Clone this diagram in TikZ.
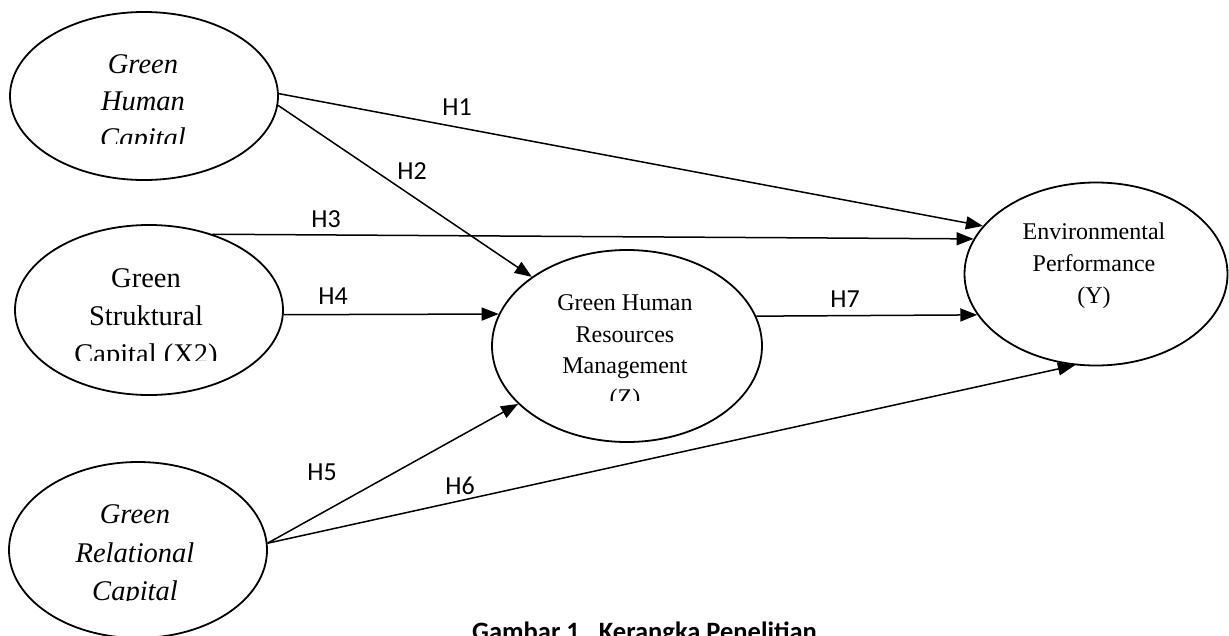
\documentclass[tikz,border=0pt]{standalone}
\usepackage{fontspec}
\setmainfont{Liberation Serif}
\newfontfamily\calibri{Carlito}
\usetikzlibrary{shapes.geometric,arrows.meta}
\begin{document}
\begin{tikzpicture}[x=1pt,y=-1pt,
  oval/.style={draw, line width=1.8pt, ellipse, inner sep=0pt},
  link/.style={line width=1.5pt, -{Triangle[length=17pt,width=13pt]}},
  bigit/.style={inner sep=0pt, anchor=base, font=\fontsize{28.5}{34}\selectfont\itshape},
  bigup/.style={inner sep=0pt, anchor=base, font=\fontsize{28.5}{34}\selectfont},
  midtxt/.style={inner sep=0pt, anchor=base, font=\fontsize{24}{29}\selectfont},
  hlab/.style={inner sep=0pt, font=\calibri\fontsize{26}{30}\selectfont},
  captxt/.style={inner sep=0pt, anchor=base west, font=\calibri\bfseries\fontsize{26.5}{30}\selectfont}
]
\clip (0,0) rectangle (1229,635);

% ellipses
\node[oval, minimum width=268pt, minimum height=168pt] (e1) at (144,96) {};
\node[oval, minimum width=268pt, minimum height=170pt] (e2) at (149,310) {};
\node[oval, minimum width=258pt, minimum height=176pt] (e3) at (138,550) {};
\node[oval, minimum width=270pt, minimum height=192pt] (e4) at (627,346) {};
\node[oval, minimum width=263pt, minimum height=183pt] (e5) at (1096,274) {};

% texts (clipped as in the reference)
\begin{scope}
  \clip (0,0) rectangle (300,143);
  \node[bigit] (t1a) at (143,73) {Green};
  \node[bigit] (t1b) at (143,110) {Human};
  \node[bigit] (t1c) at (143,147) {Capital};
\end{scope}
\begin{scope}
  \clip (0,240) rectangle (300,360);
  \node[bigup] (t2a) at (146,287) {Green};
  \node[bigup] (t2b) at (146,325) {Struktural};
  \node[bigup] (t2c) at (146,363) {Capital (X2)};
\end{scope}
\begin{scope}
  \clip (0,480) rectangle (300,600);
  \node[bigit] (t3a) at (135,523) {Green};
  \node[bigit] (t3b) at (135,562) {Relational};
  \node[bigit] (t3c) at (135,600) {Capital};
\end{scope}
\begin{scope}
  \clip (480,260) rectangle (780,400);
  \node[midtxt] (t4a) at (625,310) {Green Human};
  \node[midtxt] (t4b) at (625,342) {Resources};
  \node[midtxt] (t4c) at (625,373) {Management};
  \node[midtxt] (t4d) at (625,405) {(Z)};
\end{scope}
\node[midtxt] (t5a) at (1094,239) {Environmental};
\node[midtxt] (t5b) at (1094,271) {Performance};
\node[midtxt] (t5c) at (1094,303) {(Y)};

% connectors
\draw[link] (e1.1) -- (e5.157);
\draw[link] (e1.-4) -- (e4.144);
\draw[link] (e2.50) -- (e5.164);
\draw[link] (e2.-2) -- (e4.166);
\draw[link] (e4.13) -- (e5.199);
\draw[link] (e3.3) -- (e4.208);
\draw[link] (e3.3) -- (e5.257);

% labels
\node[hlab] (h1) at (457,107) {H1};
\node[hlab] (h2) at (412,171) {H2};
\node[hlab] (h3) at (326,219) {H3};
\node[hlab] (h4) at (333,296) {H4};
\node[hlab] (h5) at (322,472) {H5};
\node[hlab] (h6) at (460,486) {H6};
\node[hlab] (h7) at (845,299) {H7};

% caption
\node[captxt] (cap) at (472,640) {Gambar 1.\ \ Kerangka Penelitian};
\end{tikzpicture}
\end{document}
